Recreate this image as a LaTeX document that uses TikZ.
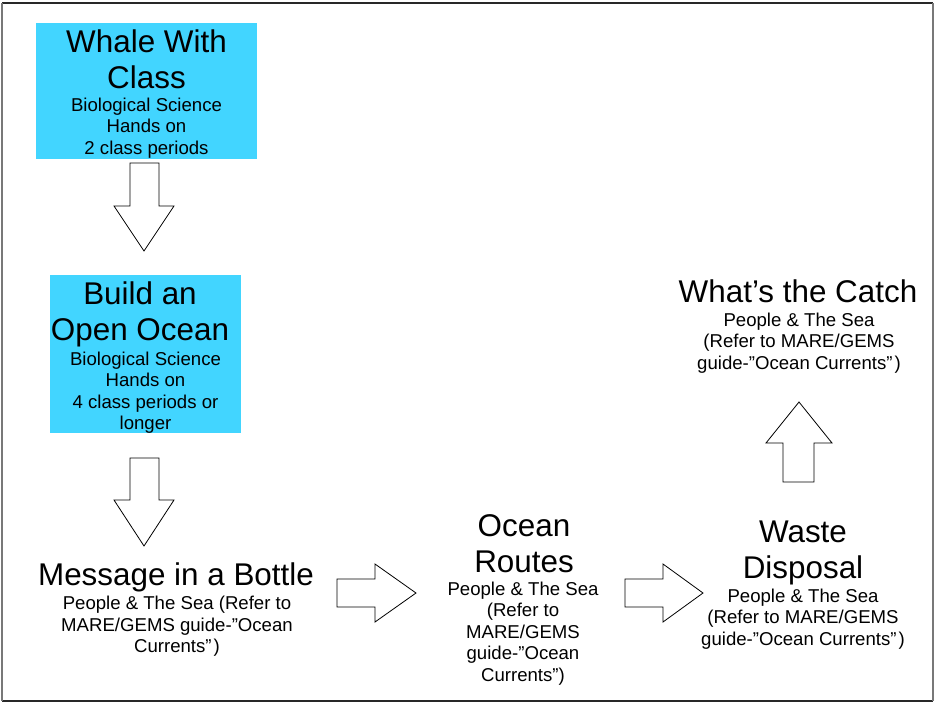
\documentclass[tikz,border=0pt]{standalone}
\usepackage{fontspec}
\setmainfont{Liberation Sans}
\definecolor{boxcyan}{RGB}{66,213,255}
\definecolor{framedark}{RGB}{40,40,40}
\definecolor{frameside}{RGB}{120,120,120}
\begin{document}
\begin{tikzpicture}[x=1pt,y=-1pt,
  box/.style={fill=boxcyan,draw=none,inner sep=0pt,anchor=north west},
  ttl/.style={align=center,inner sep=0pt,font=\fontsize{31.4}{35.5}\selectfont},
  dtl/.style={align=center,inner sep=0pt,font=\fontsize{18.6}{21.5}\selectfont},
  blockarrow/.style={draw=black,fill=white,line width=0.8pt,line join=miter}]
\useasboundingbox (0,0) rectangle (935,702);
% frame
\draw[framedark,line width=1.6pt] (2,3) -- (933,3);
\draw[framedark,line width=1.6pt] (2,701) -- (933,701);
\draw[frameside,line width=1.6pt] (2,3) -- (2,701);
\draw[frameside,line width=1.6pt] (933,3) -- (933,701);
% cyan boxes
\node[box,minimum width=221pt,minimum height=136pt] (b1) at (36,23) {};
\node[box,minimum width=191pt,minimum height=158pt] (b2) at (50,275) {};
% texts
\node[ttl] (t1) at (146.5,59.5) {Whale With\\Class};
\node[dtl] (d1) at (146.5,128) {Biological Science\\Hands on\\2 class periods};
\node[ttl] (t2) at (140,314.5) {Build an\\Open Ocean};
\node[dtl] (d2) at (145.5,392.5) {Biological Science\\Hands on\\4 class periods or\\longer};
\node[ttl] (t3) at (176,577) {Message in a Bottle};
\node[dtl] (d3) at (177,626.5) {People \& The Sea (Refer to\\MARE/GEMS guide-”Ocean\\Currents”\kern2pt)};
\node[ttl] (t4) at (524,543.5) {Ocean\\Routes};
\node[dtl] (d4) at (523,633.5) {People \& The Sea\\(Refer to\\MARE/GEMS\\guide-”Ocean\\Currents”)};
\node[ttl] (t5) at (803,553) {Waste\\Disposal};
\node[dtl] (d5) at (803,619) {People \& The Sea\\(Refer to MARE/GEMS\\guide-”Ocean Currents”\kern2pt)};
\node[ttl] (t6) at (798,291) {What’s the Catch};
\node[dtl] (d6) at (799,343) {People \& The Sea\\(Refer to MARE/GEMS\\guide-”Ocean Currents”\kern2pt)};
% block arrows
\draw[blockarrow] (130,163) -- (159,163) -- (159,206) -- (174,206) -- (144,251) -- (114,206) -- (130,206) -- cycle;
\draw[blockarrow] (130,458) -- (159,458) -- (159,500) -- (174,500) -- (144,546) -- (114,500) -- (130,500) -- cycle;
\draw[blockarrow] (337,579) -- (375,579) -- (375,564) -- (416,593) -- (375,622) -- (375,607) -- (337,607) -- cycle;
\draw[blockarrow] (625,579) -- (663,579) -- (663,564) -- (703,593) -- (663,622) -- (663,607) -- (625,607) -- cycle;
\draw[blockarrow] (783,482) -- (783,443) -- (766,443) -- (799,402) -- (832,443) -- (814,443) -- (814,482) -- cycle;
\end{tikzpicture}
\end{document}
